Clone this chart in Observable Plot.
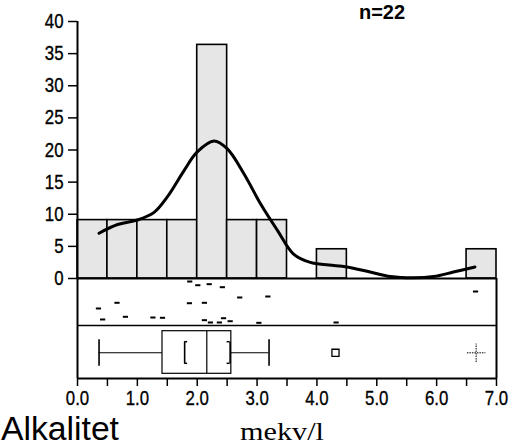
<!DOCTYPE html>
<html>
<head>
<meta charset="utf-8">
<script src="https://cdn.jsdelivr.net/npm/d3@7"></script>
<script src="https://cdn.jsdelivr.net/npm/@observablehq/plot@0.6"></script>
<style>
  html, body { margin: 0; padding: 0; background: #fff; }
  #chart { position: relative; width: 513px; height: 447px; overflow: hidden; }
</style>
</head>
<body>
<div id="chart"></div>
<script>
// ---- data ----
const binStart = [0, 0.5, 1.0, 1.5, 2.0, 2.5, 3.0, 3.5, 4.0, 4.5, 5.0, 5.5, 6.0, 6.5];
const binPercent = [9.09, 9.09, 9.09, 9.09, 36.36, 9.09, 9.09, 0, 4.55, 0, 0, 0, 0, 4.55];
const binWidth = 0.5;

const densityX = [0.36, 0.67, 1.0, 1.28, 1.5, 1.78, 2.0, 2.28, 2.5, 2.78, 3.06, 3.34, 3.61, 3.89, 4.2, 4.5, 4.89, 5.23, 5.61, 5.95, 6.28, 6.64];
const densityY = [7.05, 8.4, 9.1, 10.3, 12.7, 16.8, 19.7, 21.4, 20.2, 16.3, 11.6, 7.5, 3.8, 2.5, 2.1, 1.8, 1.0, 0.3, 0.1, 0.3, 1.0, 1.8];

const obsValue  = [1.875, 2.01, 2.20, 2.42, 6.65, 2.71, 3.18, 0.66, 1.87, 2.12, 0.35, 0.42, 0.80, 1.26, 1.42, 2.12, 2.22, 2.37, 2.44, 2.55, 3.03, 4.32];
const obsJitter = [0.064, 0.143, 0.121, 0.185, 0.277, 0.404, 0.383, 0.517, 0.526, 0.517, 0.638, 0.872, 0.815, 0.830, 0.836, 0.887, 0.936, 0.936, 0.845, 0.909, 0.943, 0.936];

const whiskerLow = 0.36, q1 = 1.42, median = 2.16, q3 = 2.57, whiskerHigh = 3.20;
const shortestHalf = [1.79, 2.55];
const outlierSquare = [4.31];
const outlierPlus = [6.66];

const yTicks = [0, 5, 10, 15, 20, 25, 30, 35, 40];
const xTicks = [0, 0.5, 1, 1.5, 2, 2.5, 3, 3.5, 4, 4.5, 5, 5.5, 6, 6.5, 7];

const title = "n=22";
const yLabel = "Alkalitet";
const xLabel = "mekv/l";

// ---- layout (in y-scale units; 0 = histogram baseline) ----
const pxPerUnit = 257 / 40;
const stripBottom = -47 / pxPerUnit;
const plotBottom = -100 / pxPerUnit;
const u = px => -px / pxPerUnit; // px below baseline -> y units

const bins = binStart.map((s, i) => ({x1: s, x2: s + binWidth, y: binPercent[i]})).filter(d => d.y > 0);
const density = densityX.map((x, i) => ({x, y: densityY[i]}));
const obs = obsValue.map((v, i) => ({x: v, y: stripBottom * obsJitter[i]}));

const dash = { draw(ctx, size) { const r = Math.sqrt(size / Math.PI); ctx.moveTo(-r, 0); ctx.lineTo(r, 0); } };

const font = "'Liberation Sans', Arial, sans-serif";

const plot = Plot.plot({
  width: 513,
  height: 447,
  marginLeft: 77,
  marginRight: 17,
  marginTop: 21,
  marginBottom: 69,
  x: {type: "linear", domain: [0, 7], label: null},
  y: {type: "linear", domain: [plotBottom, 40], label: null},
  style: {fontFamily: font, background: "white", color: "black", overflow: "visible"},
  marks: [
    Plot.rect(bins, {x1: "x1", x2: "x2", y1: 0, y2: "y", fill: "#e6e6e6", stroke: "black", strokeWidth: 1.6}),
    Plot.line(density, {x: "x", y: "y", curve: "catmull-rom", stroke: "black", strokeWidth: 3}),
    // frames
    Plot.ruleY([0], {x1: 0, x2: 7, stroke: "black", strokeWidth: 2.2}),
    Plot.ruleY([stripBottom], {x1: 0, x2: 7, stroke: "black", strokeWidth: 1.6}),
    Plot.ruleY([plotBottom], {x1: 0, x2: 7, stroke: "black", strokeWidth: 2}),
    Plot.ruleX([0], {y1: plotBottom, y2: 40, stroke: "black", strokeWidth: 2}),
    Plot.ruleX([7], {y1: plotBottom, y2: 0, stroke: "black", strokeWidth: 2}),
    // jittered observations
    Plot.dot(obs, {x: "x", y: "y", symbol: dash, r: 2.6, stroke: "black", strokeWidth: 2}),
    // box plot
    Plot.rect([{x1: q1, x2: q3}], {x1: "x1", x2: "x2", y1: u(52.7), y2: u(95.3), fill: "none", stroke: "black", strokeWidth: 1.2}),
    Plot.ruleX([median], {y1: u(52.7), y2: u(95.3), stroke: "black", strokeWidth: 1.2}),
    Plot.ruleY([u(74.3)], {x1: whiskerLow, x2: q1, stroke: "black", strokeWidth: 1.1}),
    Plot.ruleY([u(74.3)], {x1: q3, x2: whiskerHigh, stroke: "black", strokeWidth: 1.1}),
    Plot.ruleX([whiskerLow, whiskerHigh], {y1: u(61.3), y2: u(87.7), stroke: "black", strokeWidth: 1.6}),
    // shortest-half brackets
    Plot.ruleX(shortestHalf, {y1: u(63.7), y2: u(85.3), stroke: "black", strokeWidth: 1.6}),
    Plot.dot(outlierSquare, {x: d => d, y: u(74.3), symbol: "square", r: 4, stroke: "black", strokeWidth: 1.3, fill: "white"}),
    Plot.dot(outlierPlus, {x: d => d, y: u(74.3), symbol: "plus", r: 6, stroke: "black", strokeWidth: 1, strokeDasharray: "1.5,1"}),
    // axes
    Plot.axisY({ticks: yTicks, tickSize: 9, tickPadding: 5, fontSize: 20.5, tickFormat: d => String(d), strokeWidth: 1.5, label: null}),
    Plot.axisX({ticks: xTicks, tickSize: 8, tickPadding: 4, fontSize: 21, tickFormat: d => Number.isInteger(d) ? d.toFixed(1) : "", strokeWidth: 1.5, label: null})
  ]
});

document.getElementById("chart").append(plot);

// condense the axis tick labels (narrow sans like the original)
function narrow(el, s) {
  const w = el.getComputedTextLength();
  if (w > 0) {
    el.setAttribute("textLength", (w * s).toFixed(2));
    el.setAttribute("lengthAdjust", "spacingAndGlyphs");
  }
  el.setAttribute("stroke", "black");
  el.setAttribute("stroke-width", "0.35");
}
plot.querySelectorAll('g[aria-label="y-axis tick label"] text').forEach(el => narrow(el, 0.82));
plot.querySelectorAll('g[aria-label="x-axis tick label"] text').forEach(el => narrow(el, 0.8));

// bracket serifs
const svg = d3.select(plot);
const xs = plot.scale("x"), ys = plot.scale("y");
[[shortestHalf[0], 1], [shortestHalf[1], -1]].forEach(([v, dir]) => {
  [u(63.7), u(85.3)].forEach(yy => {
    svg.append("line")
      .attr("x1", xs.apply(v)).attr("x2", xs.apply(v) + dir * 3)
      .attr("y1", ys.apply(yy)).attr("y2", ys.apply(yy))
      .attr("stroke", "black").attr("stroke-width", 1.5);
  });
});

svg.append("text").text(title)
  .attr("x", 382).attr("y", 19).attr("text-anchor", "middle")
  .attr("font-family", font).attr("font-weight", "bold").attr("font-size", 20);
svg.append("text").text(yLabel)
  .attr("x", 1).attr("y", 440).attr("text-anchor", "start")
  .attr("font-family", font).attr("font-size", 33.5)
  .attr("textLength", 118).attr("lengthAdjust", "spacingAndGlyphs");
svg.append("text").text(xLabel)
  .attr("x", 240).attr("y", 440).attr("text-anchor", "start")
  .attr("font-family", "'Liberation Serif', 'Times New Roman', serif").attr("font-size", 25)
  .attr("textLength", 84).attr("lengthAdjust", "spacingAndGlyphs");
</script>
</body>
</html>
